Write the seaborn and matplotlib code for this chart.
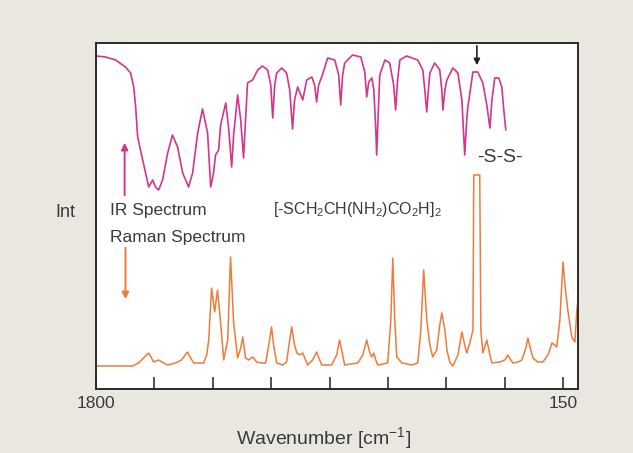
# IR and Raman spectra of cystine
import seaborn as sns
import matplotlib.pyplot as plt
import pandas as pd

# IR spectrum (transmission style)
ir_wavenumber = [1800, 1766, 1731, 1696, 1678, 1667, 1660, 1653, 1643, 1625, 1614, 1600, 1590, 1579,
                 1565, 1547, 1530, 1512, 1494, 1473, 1459, 1441, 1424, 1406, 1395, 1385, 1378, 1367,
                 1360, 1342, 1332, 1321, 1314, 1300, 1289, 1279, 1272, 1265, 1247, 1229, 1212, 1194,
                 1183, 1176, 1169, 1162, 1144, 1127, 1116, 1106, 1099, 1088, 1070, 1056, 1038, 1028,
                 1021, 1014, 1003, 982, 957, 943, 936, 929, 922, 894, 865, 851, 844, 837, 826, 819,
                 812, 809, 805, 798, 780, 763, 749, 742, 735, 727, 703, 664, 646, 639, 632, 625, 621,
                 604, 586, 579, 575, 568, 561, 540, 522, 508, 498, 491, 487, 469, 452, 434, 420, 409,
                 402, 392, 378, 367, 360, 353]
ir_intensity = [333, 332, 329, 322, 316, 302, 282, 252, 239, 216, 202, 209, 202, 199,
                209, 236, 254, 242, 216, 202, 216, 256, 280, 256, 202, 216, 234, 239,
                264, 286, 262, 222, 254, 294, 269, 231, 269, 306, 309, 319, 323, 319,
                304, 271, 304, 316, 321, 316, 299, 260, 289, 302, 289, 309, 312, 304,
                287, 304, 312, 331, 329, 314, 284, 314, 326, 334, 332, 317, 292, 307, 311, 299,
                259, 234, 264, 314, 329, 326, 304, 279, 309, 329, 333, 329, 319, 299, 277, 304, 316,
                326, 319, 299, 279, 299, 309, 321, 316, 289, 234, 269, 282, 317, 317, 306, 284, 261,
                289, 311, 311, 302, 279, 259]

# Raman spectrum
raman_wavenumber = [1800, 1671, 1650, 1629, 1614, 1604, 1597, 1579, 1561, 1547, 1519, 1498, 1477, 1466,
                    1455, 1420, 1409, 1402, 1392, 1381, 1371, 1360, 1349, 1335, 1325, 1314, 1300, 1289,
                    1282, 1272, 1261, 1247, 1233, 1215, 1201, 1187, 1180, 1173, 1162, 1141, 1127, 1116,
                    1109, 1099, 1091, 1081, 1070, 1060, 1053, 1035, 1021, 1010, 1003, 968, 950, 940,
                    929, 922, 876, 858, 844, 834, 826, 819, 812, 805, 770, 759, 752, 745, 738, 720,
                    685, 664, 653, 643, 632, 621, 611, 597, 586, 579, 568, 561, 551, 540, 522, 508,
                    498, 491, 480, 469, 466, 445, 441, 434, 420, 409, 402, 374, 356, 346, 335, 328,
                    310, 296, 282, 275, 265, 257, 240, 222, 204, 190, 180, 173, 162, 151, 144, 134,
                    120, 109, 102, 98]
raman_intensity = [23, 23, 26, 32, 36, 31, 27, 29, 26, 24, 26, 29, 37, 31,
                   26, 26, 34, 49, 101, 77, 99, 66, 29, 49, 132, 66, 31, 41,
                   52, 31, 29, 32, 27, 26, 26, 49, 62, 44, 26, 24, 27, 49,
                   62, 44, 36, 34, 36, 29, 24, 29, 37, 29, 24, 24, 34, 49,
                   34, 24, 26, 34, 49, 37, 32, 36, 29, 24, 26, 69, 131, 69, 32, 26,
                   24, 26, 59, 119, 69, 44, 32, 39, 64, 76, 59, 39, 27, 23, 34, 57,
                   44, 36, 46, 59, 214, 214, 59, 36, 49, 34, 26, 27, 29, 34, 29, 26,
                   27, 29, 41, 51, 39, 31, 27, 27, 34, 46, 44, 42, 69, 127, 104, 79,
                   52, 47, 79, 89]

tick_values = [1800, 1593.75, 1387.5, 1181.25, 975, 768.75, 562.5, 356.25, 150]
tick_labels = ['1800', '', '', '', '', '', '', '', '150']

ir_df = pd.DataFrame({'wavenumber': ir_wavenumber, 'intensity': ir_intensity})
raman_df = pd.DataFrame({'wavenumber': raman_wavenumber, 'intensity': raman_intensity})

sns.set_style('white')
plt.rcParams['font.family'] = ['Liberation Sans', 'DejaVu Sans']
plt.rcParams['mathtext.default'] = 'regular'

bg = '#E9E7E0'
ir_color = '#D4358C'
raman_color = '#EF7B3A'
txt = '#3a3a3a'

fig = plt.figure(figsize=(6.33, 4.53), dpi=100, facecolor=bg)
ax = fig.add_axes([0.1517, 0.1413, 0.7614, 0.7638])
ax.set_facecolor('white')

sns.lineplot(data=ir_df, x='wavenumber', y='intensity', color=ir_color, linewidth=1.2,
             estimator=None, ax=ax)
sns.lineplot(data=raman_df, x='wavenumber', y='intensity', color=raman_color, linewidth=1.1,
             estimator=None, ax=ax)

ax.set_xlim(1800, 98)
ax.set_ylim(0, 346)

# ticks inside, only end labels
ax.set_xticks(tick_values)
ax.set_xticklabels(tick_labels, fontsize=12.5, color=txt)
ax.tick_params(axis='x', direction='in', length=8.5, width=1.1, color='#222222', pad=5, bottom=True)
ax.set_yticks([])

for s in ax.spines.values():
    s.set_visible(True)
    s.set_color('#2a2a2a')
    s.set_linewidth(1.4)

ax.set_xlabel('Wavenumber [cm$^{-1}$]', fontsize=14, color=txt)
ax.xaxis.set_label_coords(0.471, -0.105)
ax.set_ylabel('')
fig.text(0.104, 0.532, 'Int', fontsize=13, color=txt, ha='center', va='center')

# annotations
ax.text(0.029, 0.517, 'IR Spectrum', transform=ax.transAxes, fontsize=12.5, color=txt,
        ha='left', va='center')
ax.text(0.029, 0.439, 'Raman Spectrum', transform=ax.transAxes, fontsize=12.5, color=txt,
        ha='left', va='center')
ax.text(0.367, 0.52, '[-SCH$_2$CH(NH$_2$)CO$_2$H]$_2$', transform=ax.transAxes, fontsize=11.5,
        color=txt, ha='left', va='center')
ax.text(0.838, 0.668, '-S-S-', transform=ax.transAxes, fontsize=14, color=txt,
        ha='center', va='center')

ax.annotate('', xy=(1699, 249), xytext=(1699, 191),
            arrowprops=dict(arrowstyle='-|>', color=ir_color, lw=1.4, mutation_scale=10))
ax.annotate('', xy=(1696, 87), xytext=(1696, 144),
            arrowprops=dict(arrowstyle='-|>', color=raman_color, lw=1.4, mutation_scale=10))
ax.annotate('', xy=(455, 321), xytext=(455, 346),
            arrowprops=dict(arrowstyle='-|>', color='#222222', lw=1.2, mutation_scale=9))

fig.savefig('out.png', dpi=100, facecolor=bg)
